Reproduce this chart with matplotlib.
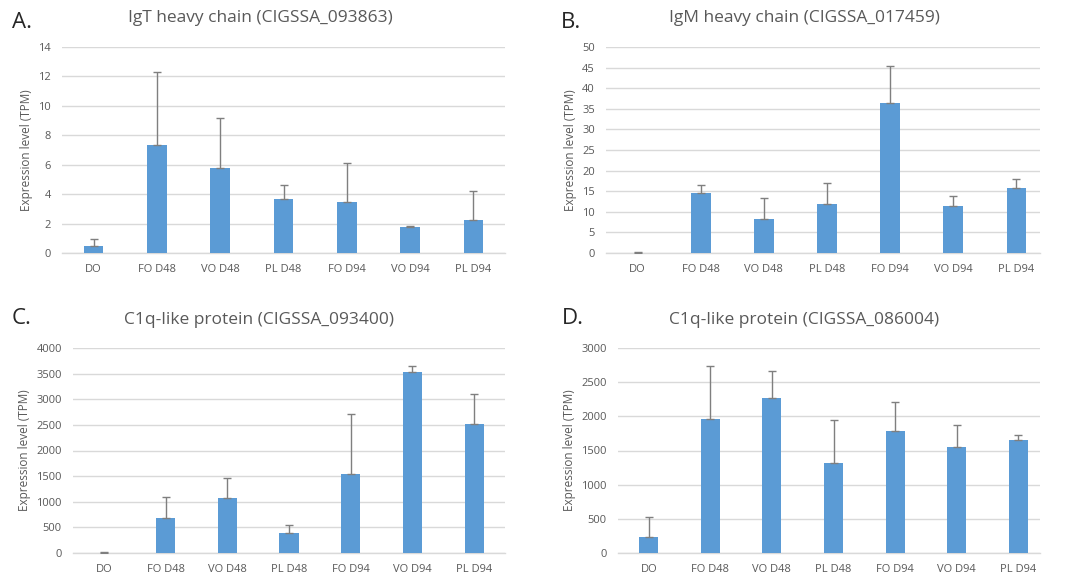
import matplotlib
matplotlib.use("Agg")
import matplotlib.pyplot as plt

plt.rcParams['font.family'] = ['Open Sans', 'DejaVu Sans']

categories = ["DO", "FO D48", "VO D48", "PL D48", "FO D94", "VO D94", "PL D94"]

titles = ["IgT heavy chain (CIGSSA_093863)", "IgM heavy chain (CIGSSA_017459)",
          "C1q-like protein (CIGSSA_093400)", "C1q-like protein (CIGSSA_086004)"]
letters = ["A.", "B.", "C.", "D."]

igt_mean = [0.45, 7.35, 5.8, 3.7, 3.5, 1.75, 2.25]
igt_top = [0.95, 12.3, 9.2, 4.65, 6.1, 1.85, 4.2]
igm_mean = [0.1, 14.5, 8.3, 12.0, 36.5, 11.3, 15.8]
igm_top = [0.3, 16.4, 13.3, 17.0, 45.5, 13.8, 18.0]
c1q1_mean = [5, 680, 1070, 400, 1545, 3535, 2520]
c1q1_top = [10, 1090, 1460, 555, 2720, 3650, 3100]
c1q2_mean = [240, 1960, 2270, 1310, 1790, 1545, 1650]
c1q2_top = [525, 2730, 2660, 1945, 2205, 1875, 1730]

yticks_list = [list(range(0, 15, 2)), list(range(0, 51, 5)),
               list(range(0, 4001, 500)), list(range(0, 3001, 500))]

W, H = 1072, 577
fig = plt.figure(figsize=(W / 100, H / 100), dpi=100)

# pixel boxes: left, top, right, bottom
boxes = [(62, 47, 505, 253), (606, 47, 1040, 253), (73, 348, 505, 553), (618, 348, 1040, 553)]
band = [443 / 7, 442 / 7, 432 / 7, 431 / 7]
title_pos = [(260, 18), (804, 18), (259, 320), (804, 320)]
letter_pos = [(12, 22), (561, 22), (12, 318), (562, 318)]

data = [(igt_mean, igt_top), (igm_mean, igm_top), (c1q1_mean, c1q1_top), (c1q2_mean, c1q2_top)]

bar_color = "#5B9BD5"
grid_color = "#D9D9D9"
text_color = "#595959"

for i, ((mean, top), (l, t, r, b)) in enumerate(zip(data, boxes)):
    ax = fig.add_axes([l / W, (H - b) / H, (r - l) / W, (b - t) / H])
    x = list(range(len(categories)))
    err = [tp - m for tp, m in zip(top, mean)]
    ax.bar(x, mean, width=0.31, color=bar_color, zorder=3)
    ax.errorbar(x, mean, yerr=[[0] * len(err), err], fmt='none', ecolor="#7F7F7F",
                elinewidth=1.0, capsize=3, capthick=1.0, zorder=4)
    xr = (r - l) / band[i] - 0.5
    ax.set_xlim(-0.5, xr)
    yt = yticks_list[i]
    ax.set_ylim(yt[0], yt[-1])
    ax.set_yticks(yt)
    ax.set_xticks(x)
    ax.set_xticklabels(categories)
    ax.yaxis.grid(True, color=grid_color, linewidth=1.0, zorder=0)
    ax.set_axisbelow(True)
    for s in ["top", "right", "left"]:
        ax.spines[s].set_visible(False)
    ax.spines["bottom"].set_color(grid_color)
    ax.spines["bottom"].set_linewidth(1.0)
    ax.tick_params(axis='both', length=0, labelsize=8, colors=text_color)
    ax.tick_params(axis='x', pad=8)
    ax.tick_params(axis='y', pad=8)
    ax.set_ylabel("Expression level (TPM)", fontsize=8.5, color=text_color, labelpad=4)
    tx, ty = title_pos[i]
    fig.text(tx / W, 1 - ty / H, titles[i], ha='center', va='center', fontsize=12.5, color=text_color)
    lx, ly = letter_pos[i]
    fig.text(lx / W, 1 - ly / H, letters[i], ha='left', va='center', fontsize=16, color="#262626")

fig.savefig("out.png", dpi=100, facecolor="white")
